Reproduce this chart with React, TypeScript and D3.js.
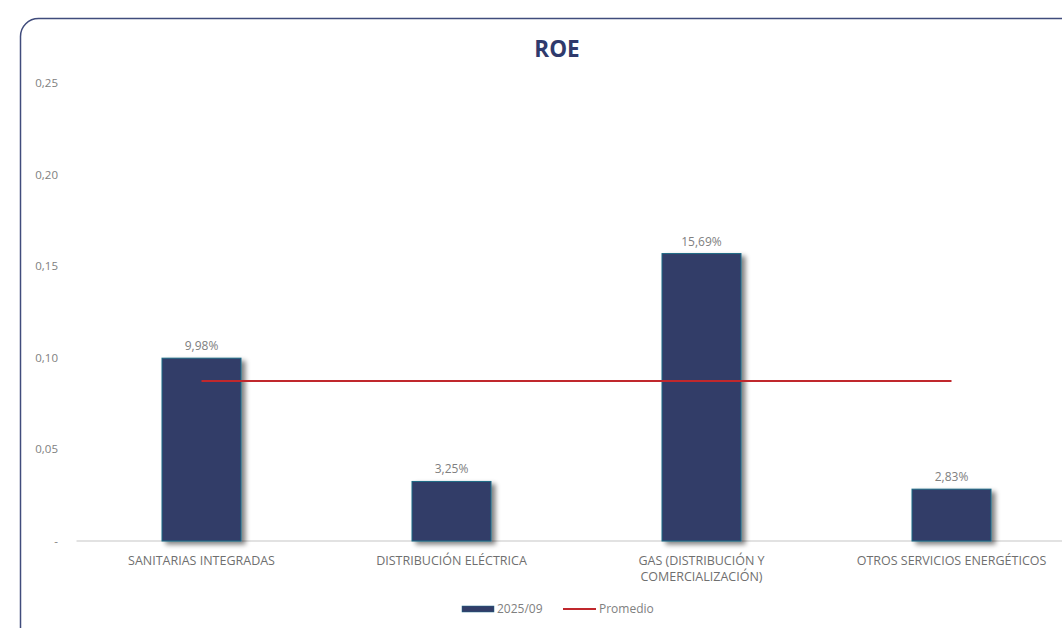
import React from "react";
import * as d3 from "d3";

const categories = [
  ["SANITARIAS INTEGRADAS"],
  ["DISTRIBUCIÓN ELÉCTRICA"],
  ["GAS (DISTRIBUCIÓN Y", "COMERCIALIZACIÓN)"],
  ["OTROS SERVICIOS ENERGÉTICOS"],
];
const values = [0.0998, 0.0325, 0.1569, 0.0283];
const valueLabels = ["9,98%", "3,25%", "15,69%", "2,83%"];
const average = 0.0873;
const yTicks = [0, 0.05, 0.1, 0.15, 0.2, 0.25];
const seriesName = "2025/09";
const avgName = "Promedio";

const W = 1062;
const H = 628;
const font = "'Open Sans', 'Noto Sans', sans-serif";

export default function App() {
  const x = d3
    .scaleBand<number>()
    .domain(d3.range(categories.length))
    .range([76.5, 1076.5])
    .paddingInner(0.684)
    .paddingOuter(0.342);
  const y = d3.scaleLinear().domain([0, 0.25]).range([541, 83]);
  const fmtTick = (v: number) => (v === 0 ? "-" : d3.format(".2f")(v).replace(".", ","));
  const bw = x.bandwidth();
  const center = (i: number) => (x(i) as number) + bw / 2;

  return (
    <svg
      width={W}
      height={H}
      style={{ position: "absolute", left: 0, top: 0, display: "block" }}
    >
      <defs>
        <filter id="sh" x="-30%" y="-30%" width="160%" height="160%">
          <feGaussianBlur in="SourceAlpha" stdDeviation="2.5" />
          <feOffset dx="4" dy="3" result="b" />
          <feComponentTransfer>
            <feFuncA type="linear" slope="0.5" />
          </feComponentTransfer>
          <feMerge>
            <feMergeNode />
            <feMergeNode in="SourceGraphic" />
          </feMerge>
        </filter>
      </defs>
      <rect width={W} height={H} fill="#ffffff" />
      <rect
        x={20.5}
        y={18.5}
        width={1100}
        height={700}
        rx={18}
        ry={18}
        fill="none"
        stroke="#404c7c"
        strokeWidth={1.5}
      />
      <text
        x={557}
        y={57}
        textAnchor="middle"
        fontFamily={font}
        fontWeight={700}
        fontSize={22.5}
        fill="#2f3a6c"
      >
        ROE
      </text>
      {yTicks.map((t) => (
        <text
          key={t}
          x={58}
          y={y(t) + 4}
          textAnchor="end"
          fontFamily={font}
          fontSize={11.5}
          fill="#808080"
        >
          {fmtTick(t)}
        </text>
      ))}
      <line x1={76.5} x2={W} y1={y(0)} y2={y(0)} stroke="#d9d9d9" strokeWidth={1.5} />
      {values.map((v, i) => (
        <g key={i}>
          <rect
            x={x(i)}
            y={y(v)}
            width={bw}
            height={y(0) - y(v)}
            fill="#323d68"
            stroke="#1c6a86"
            strokeWidth={1}
            filter="url(#sh)"
          />
          <text
            x={center(i)}
            y={y(v) - 8}
            textAnchor="middle"
            fontFamily={font}
            fontSize={12}
            fill="#808080"
          >
            {valueLabels[i]}
          </text>
          {categories[i].map((line, j) => (
            <text
              key={j}
              x={center(i)}
              y={565 + j * 16}
              textAnchor="middle"
              fontFamily={font}
              fontSize={12.5}
              fill="#6f6f6f"
            >
              {line}
            </text>
          ))}
        </g>
      ))}
      <line
        x1={center(0)}
        x2={center(values.length - 1)}
        y1={y(average)}
        y2={y(average)}
        stroke="#c0282d"
        strokeWidth={2}
      />
      <rect x={462} y={606} width={32} height={6} fill="#323d68" stroke="#1c6a86" strokeWidth={0.5} />
      <text x={497} y={613} fontFamily={font} fontSize={12} fill="#808080">
        {seriesName}
      </text>
      <line x1={563} x2={596} y1={609} y2={609} stroke="#c0282d" strokeWidth={2} />
      <text x={599} y={613} fontFamily={font} fontSize={12} fill="#808080">
        {avgName}
      </text>
    </svg>
  );
}
